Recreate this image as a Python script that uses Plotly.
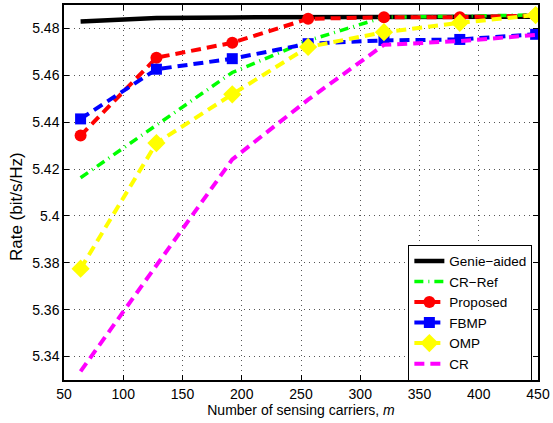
import plotly.graph_objects as go

m_vals = [64, 128, 192, 256, 320, 384, 448]
genie = [5.4830, 5.4845, 5.4847, 5.4848, 5.4848, 5.4849, 5.4850]
cr_ref = [5.4163, 5.4389, 5.4612, 5.4748, 5.4848, 5.4852, 5.4858]
proposed = [5.4343, 5.4675, 5.4739, 5.4841, 5.4848, 5.4848, 5.4855]
fbmp = [5.4414, 5.4626, 5.4671, 5.4735, 5.4749, 5.4753, 5.4775]
omp = [5.3775, 5.4311, 5.4519, 5.4721, 5.4784, 5.4824, 5.4857]
cr = [5.3337, 5.3788, 5.4241, 5.4496, 5.4730, 5.4746, 5.4772]

x_ticks = [50, 100, 150, 200, 250, 300, 350, 400, 450]
y_ticks = [5.34, 5.36, 5.38, 5.40, 5.42, 5.44, 5.46, 5.48]
y_ticktext = ["5.34", "5.36", "5.38", "5.4", "5.42", "5.44", "5.46", "5.48"]

FONT = "Liberation Sans, Arial, sans-serif"

fig = go.Figure()
fig.add_trace(go.Scatter(x=m_vals, y=genie, name="Genie\u2212aided", mode="lines",
                         line=dict(color="black", width=4.5)))
fig.add_trace(go.Scatter(x=m_vals, y=cr_ref, name="CR\u2212Ref", mode="lines",
                         line=dict(color="#00ff00", width=3.5, dash="9px,5px,1px,5px")))
fig.add_trace(go.Scatter(x=m_vals, y=proposed, name="Proposed", mode="lines+markers",
                         line=dict(color="#ff0000", width=4, dash="10px,6px"),
                         marker=dict(symbol="circle", size=12, color="#ff0000")))
fig.add_trace(go.Scatter(x=m_vals, y=fbmp, name="FBMP", mode="lines+markers",
                         line=dict(color="#0000ff", width=4, dash="10px,6px"),
                         marker=dict(symbol="square", size=11, color="#0000ff")))
fig.add_trace(go.Scatter(x=m_vals, y=omp, name="OMP", mode="lines+markers",
                         line=dict(color="#ffff00", width=4, dash="10px,6px"),
                         marker=dict(symbol="diamond", size=14, color="#ffff00")))
fig.add_trace(go.Scatter(x=m_vals, y=cr, name="CR", mode="lines",
                         line=dict(color="#ff00ff", width=4, dash="10px,6px")))

axis_common = dict(
    showline=True, linecolor="black", linewidth=1.5, mirror="allticks",
    ticks="inside", ticklen=5, tickcolor="black",
    showgrid=True, gridcolor="#555555", gridwidth=1, griddash="1px,4px",
    zeroline=False, tickfont=dict(family=FONT, size=14, color="black"),
    ticklabeloverflow="allow",
)

fig.update_xaxes(range=[50, 450], tickvals=x_ticks,
                 title=dict(text="Number of sensing carriers, <i>m</i>",
                            font=dict(family=FONT, size=14, color="black"), standoff=2),
                 **axis_common)
fig.update_yaxes(range=[5.33, 5.49], tickvals=y_ticks, ticktext=y_ticktext,
                 **axis_common)

fig.add_annotation(text="Rate (bit/s/Hz)", textangle=-90, showarrow=False,
                   xref="paper", yref="paper", x=-0.099, y=0.4615,
                   xanchor="center", yanchor="middle",
                   font=dict(family=FONT, size=17, color="black"))

fig.update_layout(
    width=553, height=423,
    margin=dict(l=64, r=10, t=3, b=43),
    paper_bgcolor="white", plot_bgcolor="white",
    font=dict(family=FONT, size=14, color="black"),
    legend=dict(x=0.7265, y=0.361, xanchor="left", yanchor="top",
                bgcolor="white", bordercolor="black", borderwidth=1,
                font=dict(family=FONT, size=13.5, color="black"),
                tracegroupgap=0),
    showlegend=True,
)

fig.write_html("out.html")
